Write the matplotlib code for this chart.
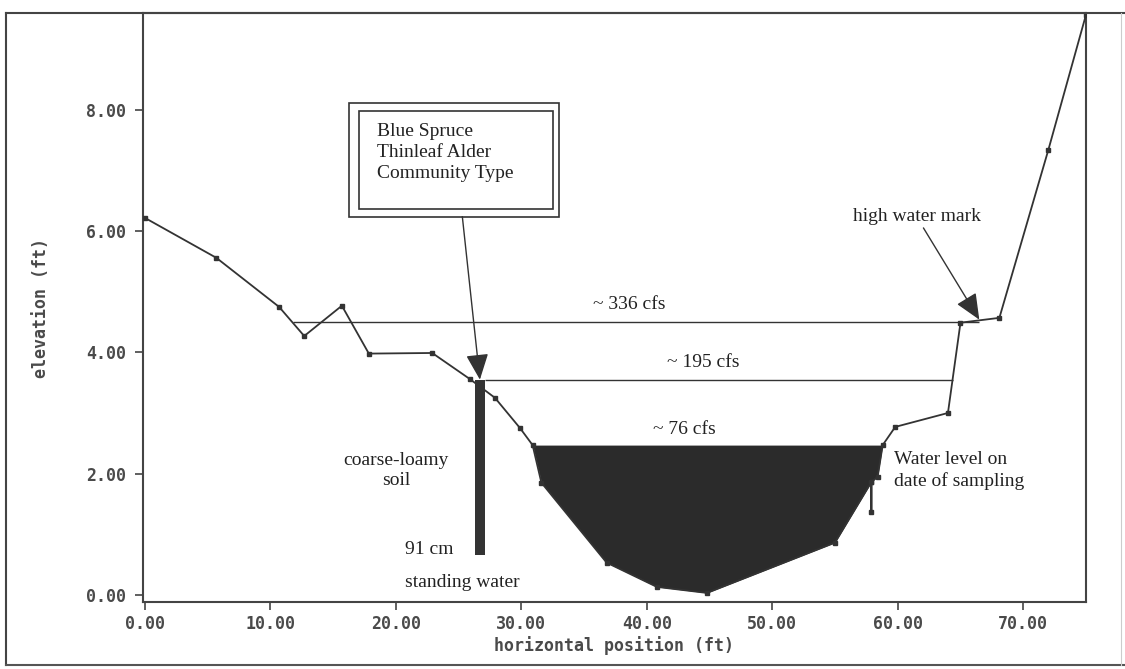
import matplotlib
matplotlib.use("Agg")
import matplotlib.pyplot as plt
import numpy as np
from matplotlib.lines import Line2D
from matplotlib.patches import Rectangle

# ground profile (ft)
profile_x = [0.0, 5.7, 10.7, 12.7, 15.7, 17.85, 22.9, 25.9, 27.9, 29.9, 30.9,
             31.6, 36.8, 40.8, 44.8, 55.0, 57.9, 57.9, 57.9, 58.4, 58.8,
             59.8, 64.0, 65.0, 68.1, 72.0, 75.0]
profile_y = [6.22, 5.56, 4.75, 4.27, 4.77, 3.98, 3.99, 3.56, 3.25, 2.75, 2.47,
             1.85, 0.53, 0.13, 0.03, 0.86, 1.86, 1.37, 1.86, 1.95, 2.47,
             2.77, 3.00, 4.49, 4.57, 7.34, 9.57]

# water level on date of sampling (~76 cfs)
water_level = 2.47

# discharge stage lines
flow_labels = ["~ 336 cfs", "~ 195 cfs"]
flow_levels = [4.5, 3.55]
flow_left = [11.8, 27.1]
flow_right = [66.5, 64.4]

# soil pit
pit_x = 26.7
pit_top = 3.55
pit_bottom = 0.65

xticks = [0, 10, 20, 30, 40, 50, 60, 70]
yticks = [0, 2, 4, 6, 8]

ink = "#333333"
serif = "Liberation Serif"
mono = "DejaVu Sans Mono"

fig = plt.figure(figsize=(11.25, 6.69), dpi=100)
ax = fig.add_axes([0.1271, 0.1001, 0.8382, 0.8804])

px = np.array(profile_x)
py = np.array(profile_y)

ax.fill_between(px, py, water_level, where=py <= water_level,
                interpolate=True, color="#2b2b2b", lw=0, zorder=2)
ax.plot(px, py, color=ink, lw=1.3, marker="s", ms=3, zorder=3)

ax.hlines(flow_levels, flow_left, flow_right, color=ink, lw=1.0, zorder=2)

ax.bar(pit_x, pit_top - pit_bottom, bottom=pit_bottom, width=0.8,
       color="#333333", zorder=4)

ax.set_xlim(-0.15, 75.0)
ax.set_ylim(-0.12, 9.6)
ax.set_xticks(xticks)
ax.set_yticks(yticks)
ax.set_xticklabels([f"{v:.2f}" for v in xticks])
ax.set_yticklabels([f"{v:.2f}" for v in yticks])
ax.tick_params(direction="out", length=6, width=1.2, colors="#444444",
               labelsize=12)
ax.tick_params(axis="x", pad=3)
ax.tick_params(axis="y", pad=6)
for lab in ax.get_xticklabels() + ax.get_yticklabels():
    lab.set_family(mono)
    lab.set_weight("bold")
    lab.set_color("#4a4a4a")
for sp in ax.spines.values():
    sp.set_color("#444444")
    sp.set_linewidth(1.5)

ax.set_xlabel("horizontal position (ft)", family=mono, weight="bold",
              fontsize=12, color="#4a4a4a")
ax.set_ylabel("elevation (ft)", family=mono, weight="bold",
              fontsize=12, color="#4a4a4a")
ax.xaxis.set_label_coords(0.5, -0.074)
ax.xaxis.label.set_va("center")
ax.yaxis.set_label_coords(-0.108, 0.5)
ax.yaxis.label.set_va("center")

# annotations
txt = dict(family=serif, fontsize=14, color="#222222")
ax.text(38.6, 4.79, flow_labels[0], ha="center", va="center", **txt)
ax.text(44.5, 3.83, flow_labels[1], ha="center", va="center", **txt)
ax.text(43.0, 2.72, "~ 76 cfs", ha="center", va="center", **txt)
ax.text(20.0, 2.05, "coarse-loamy\nsoil", ha="center", va="center",
        linespacing=1.3, **txt)
ax.text(22.7, 0.74, "91 cm", ha="center", va="center", **txt)
ax.text(20.7, 0.21, "standing water", ha="left", va="center", **txt)
ax.text(59.7, 2.05, "Water level on\ndate of sampling", ha="left", va="center",
        linespacing=1.3, **txt)

arrow = dict(arrowstyle="-|>,head_length=0.8,head_width=0.35",
             mutation_scale=20, lw=1.0, color=ink, shrinkA=0, shrinkB=0)
ax.annotate("high water mark", xy=(66.5, 4.54), xytext=(61.5, 6.24),
            ha="center", va="center", arrowprops=arrow, **txt)
ax.annotate("", xy=(26.7, 3.55), xytext=(25.3, 6.24), arrowprops=arrow)

# double-framed label box
ax.add_patch(Rectangle((16.3, 6.24), 16.7, 1.88, fill=False, ec=ink, lw=1.2,
                       zorder=5))
ax.add_patch(Rectangle((17.05, 6.37), 15.45, 1.62, fill=False, ec=ink, lw=1.2,
                       zorder=5))
ax.text(18.5, 7.78, "Blue Spruce\nThinleaf Alder\nCommunity Type", ha="left",
        va="top", linespacing=1.3, fontsize=14, family=serif,
        color="#222222")

# outer page frame
fig.add_artist(Line2D([0.0053, 0.0053], [0.006, 0.9806], color="#444444", lw=1.5))
fig.add_artist(Line2D([0.0053, 1.0], [0.9806, 0.9806], color="#444444", lw=1.5))
fig.add_artist(Line2D([0.0053, 1.0], [0.006, 0.006], color="#555555", lw=1.5))
fig.add_artist(Line2D([0.9964, 0.9964], [0.006, 0.9806], color="#cccccc", lw=0.8))

fig.savefig("out.png", dpi=100)
